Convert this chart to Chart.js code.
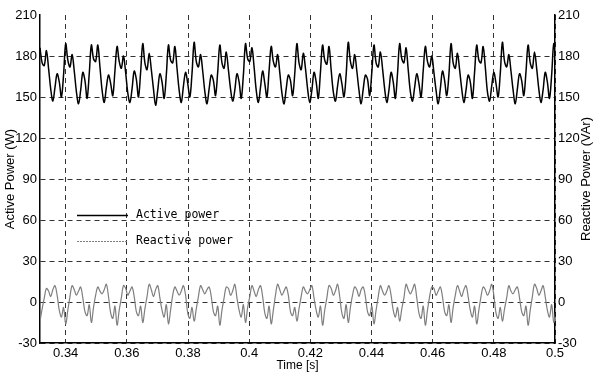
<!DOCTYPE html>
<html>
<head>
<meta charset="utf-8">
<script src="https://cdn.jsdelivr.net/npm/chart.js@4"></script>
<style>
  html, body { margin: 0; padding: 0; background: #fff; }
  #wrap { width: 598px; height: 373px; }
</style>
</head>
<body>
<div id="wrap"><canvas id="powerChart" width="598" height="373"></canvas></div>
<script>
// sampling of the traces (s)
var startTime = 0.3316;
var sampleStep = 0.0007;

// Active power (W), one row per ripple period
var activePower = [
  186,175,173,184,171,156,147,157,167,161,150,166,
  189,177,172,181,169,154,145,155,168,162,149,167,
  188,178,176,188,172,155,146,157,166,160,151,169,
  187,176,171,180,168,153,146,156,169,163,150,168,
  189,175,170,182,170,156,144,155,167,161,149,166,
  188,177,175,187,171,155,146,158,168,160,150,167,
  190,176,172,181,169,154,145,156,166,162,151,168,
  188,175,171,183,170,156,147,155,167,161,149,166,
  189,178,176,186,172,155,146,157,169,160,150,169,
  187,176,172,181,168,153,145,156,166,162,151,167,
  189,175,170,182,171,156,146,155,168,161,149,168,
  188,177,174,187,170,154,147,158,167,160,150,166,
  190,176,171,181,169,155,145,156,166,163,151,168,
  188,175,172,183,171,156,146,155,168,161,149,167,
  189,178,175,186,170,154,147,157,167,160,150,169,
  187,176,172,180,168,155,145,156,169,162,151,166,
  189,175,171,182,170,156,146,155,166,161,149,168,
  188,177,175,187,172,154,147,158,168,160,150,167,
  190,176,172,181,169,155,145,156,167,162,151,168,
  188,175,171,183,171,156,146,155,168,161,149,166,
  189,177
];

// Reactive power (VAr)
var reactivePower = [
  -14,-5,3,10,8,4,9,12,5,-6,-11,-4,
  -16,-6,4,12,9,5,8,11,3,-7,-10,-2,
  -15,-4,5,11,8,6,9,13,4,-8,-12,-3,
  -17,-6,3,12,10,5,8,11,4,-7,-10,-3,
  -15,-5,4,13,9,4,9,12,3,-6,-11,-2,
  -16,-6,5,11,8,5,8,12,5,-8,-12,-4,
  -14,-5,4,12,9,6,9,11,4,-7,-10,-3,
  -17,-6,3,11,10,5,8,13,3,-6,-11,-2,
  -15,-4,4,12,8,4,9,12,4,-8,-12,-3,
  -16,-6,5,13,9,5,8,11,5,-7,-10,-4,
  -14,-5,4,11,8,6,9,12,3,-6,-11,-3,
  -17,-6,3,12,10,5,8,13,4,-8,-12,-2,
  -15,-4,5,11,9,4,9,11,4,-7,-10,-3,
  -16,-6,4,12,8,5,8,12,5,-6,-11,-4,
  -14,-5,3,13,9,6,9,13,3,-8,-12,-3,
  -17,-6,4,11,10,5,8,11,4,-7,-10,-2,
  -15,-4,5,12,8,4,9,12,4,-6,-11,-3,
  -16,-6,4,11,9,5,8,13,5,-8,-12,-4,
  -14,-5,3,12,8,6,9,11,3,-7,-10,-3,
  -17,-6,4,13,10,5,8,12,4,-6,-11,-2,
  -15,-5
];

var xTicks = [0.34, 0.36, 0.38, 0.4, 0.42, 0.44, 0.46, 0.48, 0.5];
var yTicks = [-30, 0, 30, 60, 90, 120, 150, 180, 210];

var sampleTimes = activePower.map(function (v, i) { return startTime + i * sampleStep; });

function toPoints(values) {
  return values.map(function (v, i) { return { x: sampleTimes[i], y: v }; });
}

var tickFont = { family: "'Liberation Sans Narrow', 'Liberation Sans', Arial", size: 13 };
var dashGrid = {
  color: function (c) { return c.tick && c.tick.value === 210 ? "rgba(0,0,0,0)" : "#333"; },
  lineWidth: 1,
  drawTicks: false
};

// legend sits inside the plot, drawn by hand
var innerLegend = {
  id: "innerLegend",
  afterDatasetsDraw: function (chart) {
    var ctx = chart.ctx;
    var rows = [
      { label: "Active power", color: "#000", width: 1.5, dash: [], y: 215 },
      { label: "Reactive power", color: "#7f7f7f", width: 1, dash: [2, 1], y: 241 }
    ];
    ctx.save();
    ctx.font = "11.5px 'DejaVu Sans Mono'";
    ctx.textBaseline = "middle";
    rows.forEach(function (r) {
      ctx.strokeStyle = r.color;
      ctx.lineWidth = r.width;
      ctx.setLineDash(r.dash);
      ctx.beginPath();
      ctx.moveTo(77, r.y + 0.5);
      ctx.lineTo(128, r.y + 0.5);
      ctx.stroke();
      ctx.fillStyle = "#000";
      ctx.fillText(r.label, 136, r.y);
    });
    // right axis title reads bottom to top
    ctx.setLineDash([]);
    ctx.font = "13px 'Liberation Sans', Arial";
    ctx.textAlign = "center";
    ctx.translate(586, (chart.chartArea.top + chart.chartArea.bottom) / 2);
    ctx.rotate(-Math.PI / 2);
    ctx.fillText("Reactive Power (VAr)", 0, 0);
    ctx.restore();
  }
};

new Chart(document.getElementById("powerChart"), {
  type: "line",
  data: {
    datasets: [
      {
        label: "Active power",
        data: toPoints(activePower),
        borderColor: "#000",
        borderWidth: 1.5,
        pointRadius: 0,
        tension: 0.35,
        yAxisID: "y"
      },
      {
        label: "Reactive power",
        data: toPoints(reactivePower),
        borderColor: "#7f7f7f",
        borderWidth: 1.2,
        pointRadius: 0,
        tension: 0.35,
        yAxisID: "y2"
      }
    ]
  },
  options: {
    responsive: false,
    animation: false,
    layout: { padding: { top: 15, left: 0, right: 0, bottom: 0 } },
    plugins: { legend: { display: false }, tooltip: { enabled: false } },
    scales: {
      x: {
        type: "linear",
        min: 0.3316,
        max: 0.5,
        afterBuildTicks: function (s) { s.ticks = xTicks.map(function (v) { return { value: v }; }); },
        afterFit: function (s) { s.height = 30; },
        ticks: {
          color: "#000",
          font: tickFont,
          padding: 3,
          maxRotation: 0,
          autoSkip: false,
          callback: function (v) { return String(Number(v.toFixed(2))); }
        },
        grid: dashGrid,
        border: { display: true, color: "#000", width: 1.5, dash: [5, 4] },
        title: {
          display: true,
          text: "Time [s]",
          color: "#000",
          font: { family: "'Liberation Sans Narrow', 'Liberation Sans', Arial", size: 12 },
          padding: { top: 0, bottom: 0 }
        }
      },
      y: {
        position: "left",
        min: -30,
        max: 210,
        afterBuildTicks: function (s) { s.ticks = yTicks.map(function (v) { return { value: v }; }); },
        afterFit: function (s) { s.width = 40; },
        ticks: { color: "#000", font: tickFont, padding: 3 },
        grid: dashGrid,
        border: { display: true, color: "#000", width: 1.5, dash: [5, 4] },
        title: {
          display: true,
          text: "Active Power (W)",
          color: "#000",
          font: { family: "'Liberation Sans', Arial", size: 13 },
          padding: { top: 3, bottom: 2 }
        }
      },
      y2: {
        position: "right",
        min: -30,
        max: 210,
        afterBuildTicks: function (s) { s.ticks = yTicks.map(function (v) { return { value: v }; }); },
        afterFit: function (s) { s.width = 43; },
        ticks: { color: "#000", font: tickFont, padding: 3 },
        grid: { display: false, drawTicks: false },
        border: { display: true, color: "#000", width: 1.5 }
      }
    }
  },
  plugins: [innerLegend]
});
</script>
</body>
</html>
